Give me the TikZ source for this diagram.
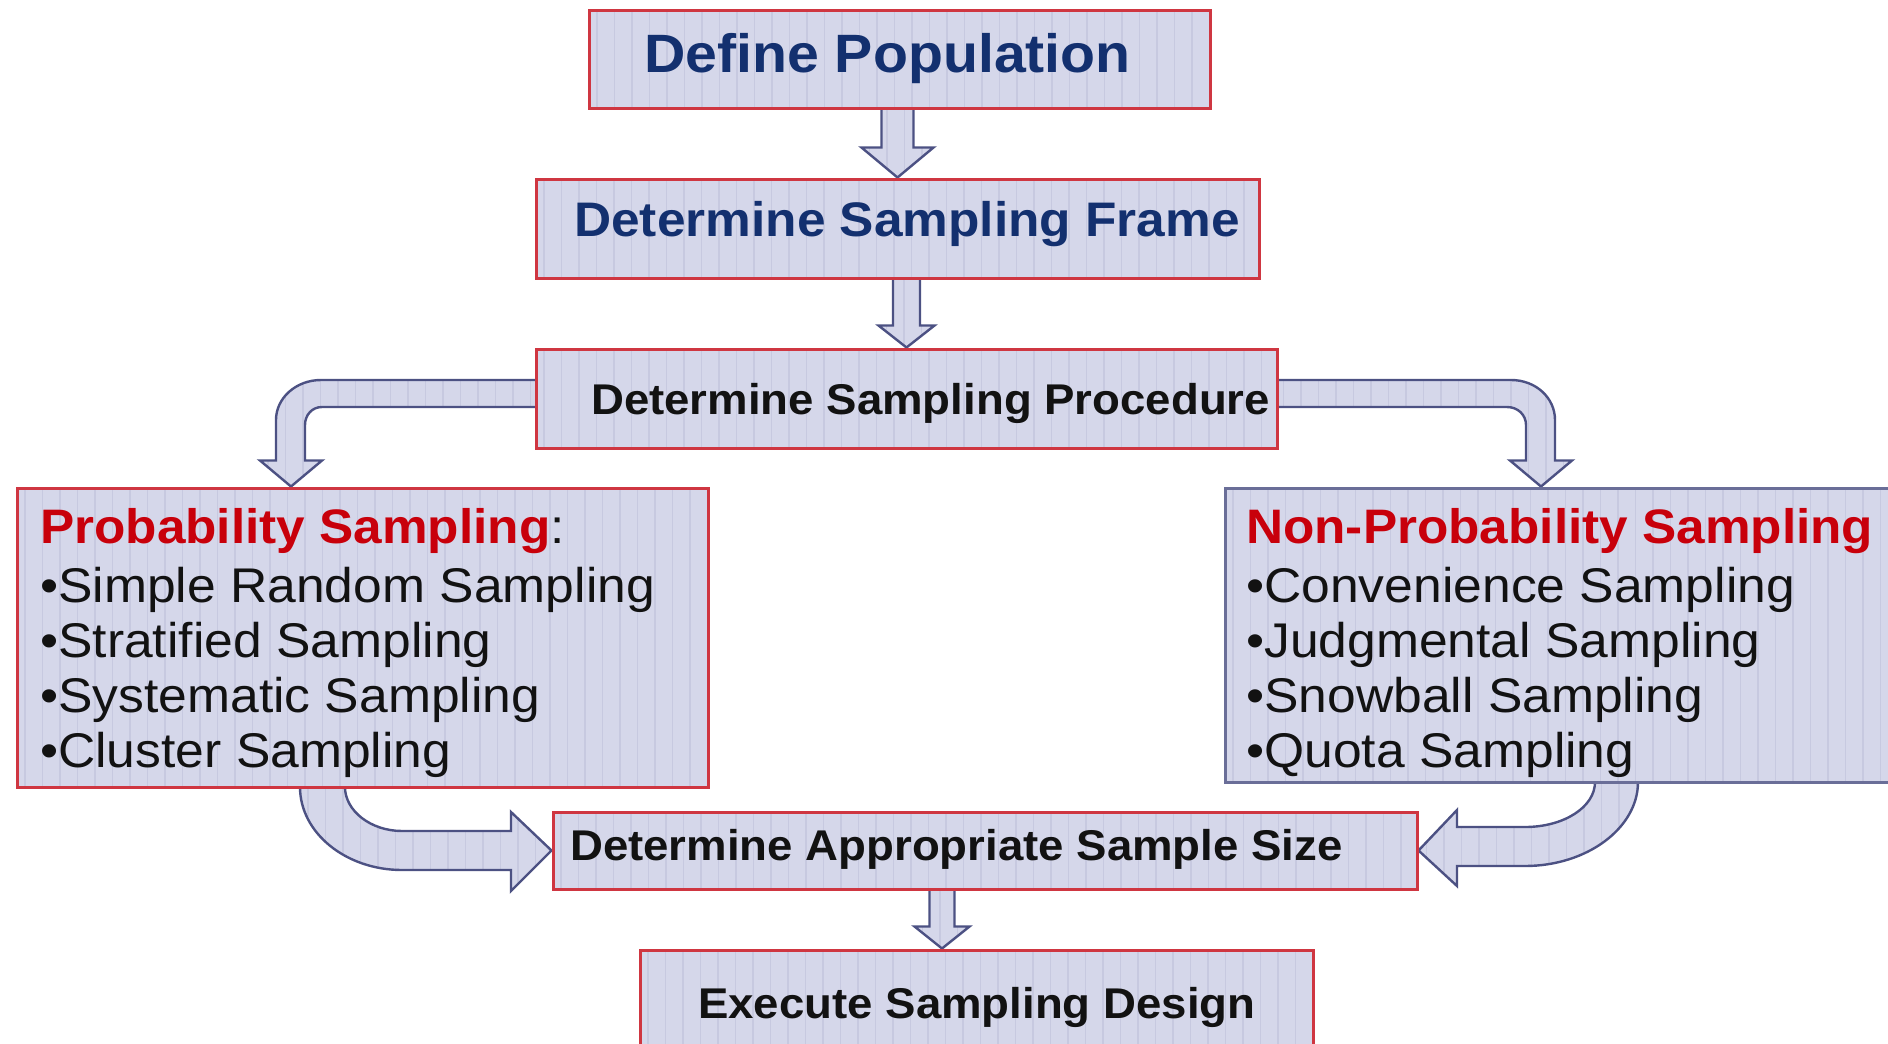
\documentclass[tikz,border=0pt]{standalone}
\usepackage{fontspec}
\setmainfont{Liberation Sans}[FakeStretch=1.06]
\usetikzlibrary{calc}
\definecolor{boxfill}{HTML}{D5D7EA}
\definecolor{stripecol}{HTML}{C7C9E0}
\definecolor{redline}{HTML}{CF3641}
\definecolor{blueline}{HTML}{6A6E98}
\definecolor{arrowline}{HTML}{4C5183}
\definecolor{navytext}{HTML}{13306F}
\definecolor{redtext}{HTML}{C8000B}
\definecolor{blacktext}{HTML}{121212}
\tikzset{
  stripes/.style={path picture={\foreach \k in {0,...,55}{\draw[stripecol,line width=1.2pt] ([xshift={\k*17.5pt+8pt}]path picture bounding box.south west) -- ([xshift={\k*17.5pt+8pt}]path picture bounding box.north west);}}},
  box/.style={rectangle, draw=redline, line width=3pt, fill=boxfill, stripes, inner sep=0pt},
  bluebox/.style={box, draw=blueline},
  barrow/.style={draw=arrowline, line width=2.4pt, fill=boxfill, stripes, line join=miter},
  txt/.style={inner sep=0pt, anchor=base west, text=blacktext},
  bigtitle/.style={txt, text=navytext, font=\bfseries\fontsize{54}{58}\selectfont},
  midtitle/.style={txt, text=navytext, font=\bfseries\fontsize{48.5}{52}\selectfont},
  steptxt/.style={txt, font=\bfseries\fontsize{43}{47}\selectfont},
  headtxt/.style={txt, text=redtext, font=\bfseries\fontsize{48.4}{52}\selectfont},
  itemtxt/.style={txt, font=\fontsize{48.7}{52}\selectfont},
}
\newcommand{\vblock}[6]{%
  \filldraw[barrow] let \p1=#1, \p2=#2 in
  (\x2+#3pt-#4pt,\y1+3pt) -- (\x2+#3pt-#4pt,\y2+#6pt) -- (\x2+#3pt-#5pt,\y2+#6pt) -- (\x2+#3pt,\y2)
  -- (\x2+#3pt+#5pt,\y2+#6pt) -- (\x2+#3pt+#4pt,\y2+#6pt) -- (\x2+#3pt+#4pt,\y1+3pt) -- cycle;}
\begin{document}
\begin{tikzpicture}[x=1pt,y=-1pt]
\useasboundingbox (0,0) rectangle (1888,1044);
% boxes (positions first, drawn again on top later)
\path node[box, minimum width=621pt, minimum height=98pt] (b1) at (899.5,59) {}
      node[box, minimum width=723pt, minimum height=99pt] (b2) at (897.5,228.5) {}
      node[box, minimum width=741pt, minimum height=99pt] (b3) at (906.5,398.5) {}
      node[box, minimum width=691pt, minimum height=299pt] (b4) at (362.5,637.5) {}
      node[bluebox, minimum width=685pt, minimum height=294pt] (b5) at (1567.5,635) {}
      node[box, minimum width=864pt, minimum height=77pt] (b6) at (985,850.5) {}
      node[box, minimum width=673pt, minimum height=120pt] (b7) at (976.5,1010) {};
% straight block arrows
\vblock{(b1.south)}{(b2.north)}{0}{16}{36}{30}
\vblock{(b2.south)}{(b3.north)}{0}{13.5}{28}{22}
\vblock{(b6.south)}{(b7.north)}{-34.5}{12.5}{27.5}{22}
% curved block arrows
\filldraw[barrow] let \p1=(b3.west), \p2=(b4.north) in
  (\x1+3pt,-380pt) -- (321,380) .. controls (296,380) and (276,398) .. (276,420)
  -- (276pt,\y2+26pt) -- (260pt,\y2+26pt) -- (291pt,\y2) -- (322pt,\y2+26pt) -- (305pt,\y2+26pt)
  -- (305,425) .. controls (305,415) and (312,407) .. (322,407) -- (\x1+3pt,-407pt) -- cycle;
\filldraw[barrow] let \p1=(b3.east), \p2=(b5.north) in
  (\x1-3pt,-380pt) -- (1511,380) .. controls (1536,380) and (1555,398) .. (1555,420)
  -- (1555pt,\y2+26pt) -- (1572pt,\y2+26pt) -- (1541pt,\y2) -- (1510pt,\y2+26pt) -- (1526pt,\y2+26pt)
  -- (1526,425) .. controls (1526,415) and (1518,407) .. (1507,407) -- (\x1-3pt,-407pt) -- cycle;
\filldraw[barrow] let \p1=(b4.south), \p2=(b6.west) in
  (300pt,\y1+3pt) -- (300,787) .. controls (300,833) and (346,870) .. (402,870) -- (511,870) -- (511,891)
  -- (\x2,\y2) -- (511,812) -- (511,831) -- (402,831) .. controls (371,831) and (345,811) .. (345,787)
  -- (345pt,\y1+3pt) -- cycle;
\filldraw[barrow] let \p1=(b5.south), \p2=(b6.east) in
  (1595pt,\y1+3pt) -- (1595,782) .. controls (1595,807) and (1564,827) .. (1525,827) -- (1457,827) -- (1457,810)
  -- (\x2,\y2) -- (1457,886) -- (1457,866) -- (1525,866) .. controls (1587,866) and (1638,828) .. (1638,782)
  -- (1638pt,\y1+3pt) -- cycle;
% boxes drawn on top
\node[box, minimum width=621pt, minimum height=98pt] (b1top) at (b1) {};
\node[box, minimum width=723pt, minimum height=99pt] (b2top) at (b2) {};
\node[box, minimum width=741pt, minimum height=99pt] (b3top) at (b3) {};
\node[box, minimum width=691pt, minimum height=299pt] (b4top) at (b4) {};
\node[bluebox, minimum width=685pt, minimum height=294pt] (b5top) at (b5) {};
\node[box, minimum width=864pt, minimum height=77pt] (b6top) at (b6) {};
\node[box, minimum width=673pt, minimum height=120pt] (b7top) at (b7) {};
% texts
\node[bigtitle] (t1) at (644,72) {Define Population};
\node[midtitle] (t2) at (574,236) {Determine Sampling Frame};
\node[steptxt] (t3) at (591,414.5) {Determine Sampling Procedure};
\node[headtxt] (p0) at (40,543) {Probability Sampling\textcolor{blacktext}{\mdseries:}};
\node[itemtxt] (p1) at (40,602) {•Simple Random Sampling};
\node[itemtxt] (p2) at (40,657) {•Stratified Sampling};
\node[itemtxt] (p3) at (40,712) {•Systematic Sampling};
\node[itemtxt] (p4) at (40,767) {•Cluster Sampling};
\node[headtxt] (n0) at (1246,543) {Non-Probability Sampling};
\node[itemtxt] (n1) at (1246,602) {•Convenience Sampling};
\node[itemtxt] (n2) at (1246,657) {•Judgmental Sampling};
\node[itemtxt] (n3) at (1246,712) {•Snowball Sampling};
\node[itemtxt] (n4) at (1246,767) {•Quota Sampling};
\node[steptxt] (t6) at (570,860) {Determine Appropriate Sample Size};
\node[steptxt] (t7) at (698,1018) {Execute Sampling Design};
\end{tikzpicture}
\end{document}
